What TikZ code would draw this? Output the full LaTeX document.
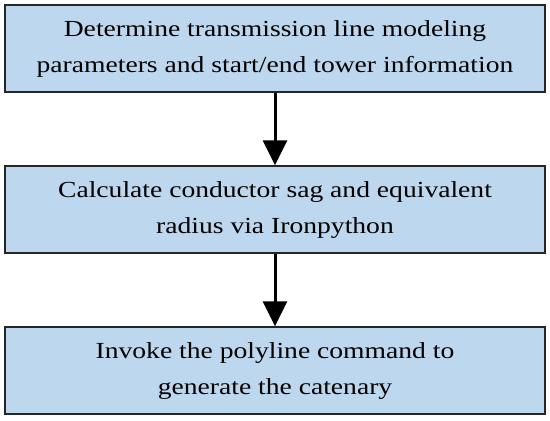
\documentclass[tikz,border=0pt]{standalone}
\usepackage{fontspec}
\setmainfont[FakeStretch=1.2]{Liberation Serif}
\usetikzlibrary{arrows.meta}
\definecolor{boxfill}{RGB}{189,215,238}
\begin{document}
\begin{tikzpicture}[x=1pt,y=-1pt,
  stepbox/.style={draw=black!85,line width=1.3pt,fill=boxfill,minimum width=540pt,minimum height=87pt,
    align=center,font=\fontsize{23}{36}\selectfont,inner sep=0pt},
  conn/.style={line width=3pt,-{Triangle[width=24pt,length=25pt]}}]
\useasboundingbox (0,0) rectangle (550,421);
\node[stepbox] (a) at (275,48.5) {Determine transmission line modeling\\parameters and start/end tower information};
\node[stepbox] (b) at (275,209.5) {Calculate conductor sag and equivalent\\radius via Ironpython};
\node[stepbox] (c) at (275,370.5) {Invoke the polyline command to\\generate the catenary};
\draw[conn] (a.south) -- (b.north);
\draw[conn] (b.south) -- (c.north);
\end{tikzpicture}
\end{document}
